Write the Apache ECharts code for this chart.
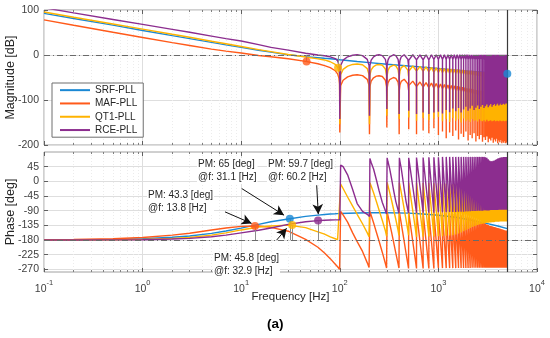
<!DOCTYPE html>
<html><head><meta charset="utf-8">
<script src="https://cdn.jsdelivr.net/npm/echarts@6/dist/echarts.min.js"></script>
<style>html,body{margin:0;padding:0;background:#fff}#c{width:550px;height:338px}</style>
</head><body><div id="c"></div>
<script>
// ---------------- data ----------------
const seriesNames = ['SRF-PLL', 'MAF-PLL', 'QT1-PLL', 'RCE-PLL'];
const xTickHz = [0.1, 1, 10, 100, 1000, 10000];
const xTickExp = ['-1', '0', '1', '2', '3', '4'];
const magTicks = [-200, -100, 0, 100];
const phaseTicks = [-270, -225, -180, -135, -90, -45, 0, 45];

const lowHz = [0.1, 0.2, 0.5, 1, 2, 3, 5, 7, 10, 15, 20, 30, 45, 60, 70, 80, 90, 95, 98, 99.5];
const srfMagLow = [92.5, 81, 66.5, 54.5, 43, 36.5, 28, 22.5, 17, 10.5, 6.5, 0.4, -3.6, -6, -7.3, -8.3, -9.4, -9.9, -10.2, -10.4];
const srfPhaseLow = [-179.6, -179.1, -177.9, -175.7, -171.5, -167.4, -159.5, -152.4, -143.3, -132, -124, -115.5, -107.5, -103.5, -101.5, -100.3, -99.5, -99, -98.8, -98.7];
const mafMagLow = [78, 66, 50.5, 39, 27.5, 21, 13, 8.5, 4.5, -1, -4, -8.3, -14.2, -19.5, -23.5, -28, -35, -42, -51, -64];
const mafPhaseLow = [-179, -178.3, -176, -172, -165, -159, -149, -143, -138, -136.8, -141, -153, -178, -202, -220, -237, -254, -262, -267, -270];
const qt1MagLow = [95.5, 84, 69, 57.5, 46, 39.5, 30.5, 25, 19, 12, 7.5, 1, -4.5, -8.5, -11, -15, -21, -27, -36, -50];
const qt1PhaseLow = [-180, -179.8, -179.3, -178, -175, -172, -165, -158, -149, -140, -137, -134.2, -142, -155, -162, -170, -176, -179, -181, -183];
const rceMagLow = [105, 93.5, 79, 68, 57, 50.5, 42, 36.5, 31, 23, 17, 10.8, 4, 0.1, -1.8, -4, -8, -13, -22, -34];
const rcePhaseLow = [-180, -179.9, -179.6, -179, -177, -175, -170, -165, -158, -150, -143, -132, -124, -120.4, -119.3, -118.6, -118.2, -118, -118, -118];

const srfHighHz = [100, 150, 200, 300, 500, 700, 1000, 1500, 2000, 3000, 4000, 5000];
const srfMagHigh = [-10.5, -14.5, -17, -20.5, -24.5, -27, -30, -33.5, -36, -39, -41, -41.5];
const srfPhaseHigh = [-98.5, -97, -96.5, -96.5, -97.5, -100, -104, -110, -117, -128, -137, -145];

const domeHz = [100, 102, 108, 120, 135, 150, 170, 190, 198,
  200, 202, 208, 220, 235, 250, 270, 290, 298,
  300, 302, 308, 320, 335, 350, 370, 390, 398,
  400, 402, 408, 420, 435, 450, 470, 490, 498];
const mafMagDome = [-172, -68, -56, -48.6, -45, -44, -45.8, -54.2, -68,
  -176, -70, -58, -50.6, -47, -46, -47.8, -56.2, -70,
  -161, -74, -62, -54.6, -51, -50, -51.8, -60.2, -74,
  -176, -78, -66, -58.6, -55, -54, -55.8, -64.2, -78];
const qt1MagDome = [-154, -44, -32, -24.6, -21, -20, -21.8, -30.2, -44,
  -154, -45, -33, -25.6, -22, -21, -22.8, -31.2, -45,
  -135, -46.5, -34.5, -27, -23.5, -22.5, -24.3, -32.7, -46.5,
  -142, -47.5, -35.5, -28, -24.5, -23.5, -25.3, -33.7, -47.5];
const rceMagDome = [-142, -23.5, -11.5, -4, -0.5, 0.5, -1.3, -9.7, -23.5,
  -135, -23.5, -11.5, -4, -0.5, 0.5, -1.3, -9.7, -23.5,
  -120, -23.5, -11.5, -4, -0.5, 0.5, -1.3, -9.7, -23.5,
  -131, -23.5, -11.5, -4, -0.5, 0.5, -1.3, -9.7, -23.5];
const mafPhaseDome = [-270, -92, -103, -125, -158, -185, -215, -250, -264,
  -270, -92, -104, -127, -156, -183, -218, -252, -266,
  -270, -93, -105, -128, -156, -184, -220, -253, -266,
  -270, -94, -106, -129, -157, -185, -221, -254, -267];
const qt1PhaseDome = [-183, -8, -22, -48, -76, -101, -130, -158, -170,
  -173, -4, -14, -35, -62, -88, -120, -152, -168,
  -172, -3, -13, -33, -58, -84, -117, -150, -166,
  -172, -4, -14, -34, -60, -85, -118, -150, -165];
const rcePhaseDome = [-118, 50, 45, 20, -25, -68, -92, -101, -106,
  -108, 70, 58, 38, 5, -28, -65, -90, -100,
  -103, 72, 60, 40, 8, -25, -62, -88, -98,
  -100, 72, 60, 40, 8, -25, -62, -88, -97];

const denseHz = [500, 600, 700, 800, 900, 1000, 1100, 1200, 1300, 1400, 1500, 1600, 1700, 1800, 1900, 2000, 2100, 2200, 2300, 2400, 2500, 2600, 2700, 2800, 2900, 3000, 3100, 3200, 3300, 3400, 3500, 3600, 3700, 3800, 3900, 4000, 4100, 4200, 4300, 4400, 4500, 4600, 4700, 4800, 4900, 5000];
const denseMidHz = [550, 650, 750, 850, 950, 1050, 1150, 1250, 1350, 1450, 1550, 1650, 1750, 1850, 1950, 2050, 2150, 2250, 2350, 2450, 2550, 2650, 2750, 2850, 2950, 3050, 3150, 3250, 3350, 3450, 3550, 3650, 3750, 3850, 3950, 4050, 4150, 4250, 4350, 4450, 4550, 4650, 4750, 4850, 4950];

const rceDepthDb = [-124, -131, -128, -131, -128, -126, -130, -122, -127, -119, -125, -118, -128, -121, -115, -124, -119, -113, -122, -117, -112, -120, -115, -111, -118, -114, -110, -116, -112, -109, -115, -111, -109, -113, -110, -108, -112, -110, -108, -111, -109, -108, -110, -108, -108, -108];
const rcePeakDb = [0.5, 0.5, 0.5, 0.5, 0.5, 0.5, 0.5, 0.5, 0.5, 0.5, 0.5, 0.5, 0.5, 0.5, 0.5, 0.5, 0.5, 0.5, 0.5, 0.5, 0.5, 0.5, 0.5, 0.5, 0.5, 0.5, 0.5, 0.5, 0.5, 0.5, 0.5, 0.5, 0.5, 0.5, 0.5, 0.5, 0.5, 0.5, 0.5, 0.5, 0.5, 0.5, 0.5, 0.5, 0.5];
const rceShoulderDb = [-12, -11, -11, -11, -10, -10, -10, -10, -10, -10, -10, -10, -10, -10, -10, -10, -10, -10, -10, -10, -10, -10, -10, -10, -10, -10, -10, -10, -10, -10, -10, -10, -10, -10, -10, -10, -10, -10, -10, -10, -10, -10, -10, -10, -10, -10];
const qt1DepthDb = [-139, -146, -140, -145, -141, -138, -147, -142, -149, -140, -146, -143, -150, -141, -147, -144, -149, -142, -146, -145, -148, -143, -146, -147, -145, -148, -144, -147, -146, -145, -147, -146, -145, -147, -146, -146, -147, -145, -146, -147, -146, -146, -147, -146, -146, -146];
const qt1PeakDb = [-24.5, -25.5, -26.5, -27.5, -28.5, -29.5, -30, -30.5, -31, -31.5, -32, -32.5, -33, -33.5, -34, -34.5, -35, -35.5, -36, -36.5, -37, -37.3, -37.6, -38, -38.3, -38.6, -39, -39.3, -39.6, -40, -40.2, -40.4, -40.6, -40.8, -41, -41.2, -41.4, -41.6, -41.8, -42, -42.2, -42.4, -42.6, -42.8, -43];
const qt1ShoulderDb = [-36, -35.5, -36.5, -37.5, -38.5, -39.5, -40, -40.5, -41, -41.5, -42, -42.5, -43, -43.5, -44, -44.5, -45, -45.5, -46, -46.5, -47, -47.3, -47.6, -48, -48.3, -48.6, -49, -49.3, -49.6, -50, -50.2, -50.4, -50.6, -50.8, -51, -51.2, -51.4, -51.6, -51.8, -52, -52.2, -52.4, -52.6, -52.8, -53, -53];
const mafDepthDb = [-165, -176, -168, -174, -163, -178, -170, -185, -172, -180, -168, -188, -175, -182, -170, -190, -178, -185, -174, -192, -180, -187, -178, -193, -183, -189, -181, -194, -186, -190, -184, -195, -188, -192, -186, -196, -190, -194, -189, -196, -192, -195, -191, -196, -194, -195];
const mafPeakDb = [-58, -60, -61.5, -62.5, -63.5, -64.5, -65.5, -66.5, -67.5, -68.5, -69.5, -70.5, -71.5, -72.5, -73.5, -74.5, -75.5, -76.5, -77.5, -78, -78.5, -79, -79.5, -80, -80.5, -81, -81.5, -82, -82.5, -83, -83.5, -84, -84.5, -85, -85.5, -86, -86.5, -87, -87.5, -88, -88.5, -89, -89.5, -90, -90.5];
const mafShoulderDb = [-68, -70, -71.5, -72.5, -73.5, -74.5, -75.5, -76.5, -77.5, -78.5, -79.5, -80.5, -81.5, -82.5, -83.5, -84.5, -85.5, -86.5, -87.5, -88, -88.5, -89, -89.5, -90, -90.5, -91, -91.5, -92, -92.5, -93, -93.5, -94, -94.5, -95, -95.5, -96, -96.5, -97, -97.5, -98, -98.5, -99, -99.5, -100, -100.5, -101];

const rceTopDeg = [72, 73, 73, 74, 74, 74, 75, 75, 75, 75, 75, 75, 75, 75, 75, 75, 75, 75, 75, 75, 75, 75, 75, 75, 75, 74, 72, 68, 64, 62, 62, 63, 64, 66, 68, 70, 71, 72, 73, 74, 74, 75, 75, 75, 75, 75];
const rceBottomDeg = [-97, -97, -96, -96, -96, -95, -95, -95, -94, -94, -94, -93, -93, -93, -92, -92, -92, -91, -91, -91, -90, -90, -90, -90, -89, -89, -89, -89, -89, -88, -88, -88, -88, -88, -88, -88, -87, -87, -87, -87, -87, -87, -87, -87, -87, -87];
const qt1TopDeg = [-4, -4, -5, -5, -6, -6, -7, -7, -8, -8, -9, -10, -11, -12, -13, -14, -15, -16, -17, -18, -19, -20, -21, -22, -23, -24, -25, -26, -27, -28, -29, -30, -31, -32, -33, -34, -35, -36, -37, -38, -39, -40, -41, -42, -43, -44];
const qt1BottomDeg = [-170, -170, -170, -169, -169, -168, -168, -167, -166, -165, -163, -160, -157, -153, -150, -146, -143, -140, -138, -136, -134, -132, -131, -130, -129, -128, -127, -127, -126, -126, -125, -125, -125, -124, -124, -124, -124, -123, -123, -123, -123, -123, -123, -123, -123, -123];
const mafTopDeg = [-95, -95, -96, -96, -96, -97, -97, -98, -99, -100, -101, -102, -104, -106, -108, -110, -112, -114, -116, -118, -120, -122, -124, -126, -128, -130, -132, -134, -136, -137, -138, -139, -140, -141, -142, -143, -144, -145, -146, -147, -148, -149, -150, -151, -151, -152];
const mafBottomDeg = [-267, -267, -267, -267, -267, -266, -266, -266, -266, -266, -266, -266, -266, -266, -266, -266, -266, -265, -265, -265, -265, -265, -265, -265, -265, -265, -265, -265, -265, -265, -265, -265, -265, -265, -265, -265, -265, -265, -265, -265, -265, -265, -265, -265, -265, -265];

const gmHz = [5000, 46, 96];
const gmDb = [-41.5, -14.7, -28.6];
const gmSeries = [0, 1, 2];
const pmHz = [13.8, 31.1, 32.9, 60.2];
const pmDeg = [-136.7, -115, -134.2, -120.3];
const pmSeries = [1, 0, 2, 3];
const pmLabels = ['PM: 43.3 [deg]\n@f: 13.8 [Hz]', 'PM: 65 [deg]\n@f: 31.1 [Hz]', 'PM: 45.8 [deg]\n@f: 32.9 [Hz]', 'PM: 59.7 [deg]\n@f: 60.2 [Hz]'];
const nyquistHz = 5000;
// arrow annotations (from -> to) in data coordinates [Hz, deg]
const arrowFrom = [[6.85, -93.6], [10.12, -22], [22.9, -180], [58.3, -12]];
const arrowTo = [[12.77, -129], [27.2, -103.7], [28.9, -144], [60.5, -100.6]];

// ---------------- styles ----------------
const colors = ['#1a88d4', '#ff5a1a', '#ffb300', '#8c2d8f'];
const FONT = 'Liberation Sans, Arial, Helvetica, sans-serif';
const labelPos = [[147, 189], [197, 158], [213, 252], [267, 158]];

// ---------------- build ----------------
function magData(low, dome, depth, peak, shoulder) {
  const d = lowHz.map((f, i) => [f, low[i]]);
  domeHz.forEach((f, i) => d.push([f, dome[i]]));
  denseHz.forEach((f, i) => {
    d.push([f, shoulder[i]], [f, depth[i]], [f, shoulder[i]]);
    if (i < denseMidHz.length) d.push([denseMidHz[i], peak[i]]);
  });
  return d;
}
function phaseData(low, dome, bottom, top) {
  const d = lowHz.map((f, i) => [f, low[i]]);
  domeHz.forEach((f, i) => d.push([f, dome[i]]));
  denseHz.forEach((f, i) => d.push([f, bottom[i]], [f, top[i]]));
  return d;
}
const srfMag = lowHz.map((f, i) => [f, srfMagLow[i]]).concat(srfHighHz.map((f, i) => [f, srfMagHigh[i]]));
const srfPhase = lowHz.map((f, i) => [f, srfPhaseLow[i]]).concat(srfHighHz.map((f, i) => [f, srfPhaseHigh[i]]));
const magSets = [srfMag,
  magData(mafMagLow, mafMagDome, mafDepthDb, mafPeakDb, mafShoulderDb),
  magData(qt1MagLow, qt1MagDome, qt1DepthDb, qt1PeakDb, qt1ShoulderDb),
  magData(rceMagLow, rceMagDome, rceDepthDb, rcePeakDb, rceShoulderDb)];
const phaseSets = [srfPhase,
  phaseData(mafPhaseLow, mafPhaseDome, mafBottomDeg, mafTopDeg),
  phaseData(qt1PhaseLow, qt1PhaseDome, qt1BottomDeg, qt1TopDeg),
  phaseData(rcePhaseLow, rcePhaseDome, rceBottomDeg, rceTopDeg)];

const gridLine = { show: true, lineStyle: { color: '#dedede', width: 1 } };
const minorGrid = { show: true, lineStyle: { color: '#ececec', width: 1, type: [1, 2] } };
const tick = { show: true, inside: true, length: 4, lineStyle: { color: '#606060' } };
const minorTick = { show: true, splitNumber: 9, length: 2, lineStyle: { color: '#808080' } };
const noLine = { show: false, onZero: false };

function logX(gi, pos, extra) {
  return Object.assign({
    gridIndex: gi, type: 'log', logBase: 10, min: xTickHz[0], max: xTickHz[xTickHz.length - 1], position: pos,
    axisLine: noLine, axisTick: tick, minorTick: minorTick,
    splitLine: { show: false }, axisLabel: { show: false }
  }, extra || {});
}
const xLabelFmt = v => {
  const i = xTickHz.findIndex(t => Math.abs(Math.log10(t) - Math.log10(v)) < 1e-6);
  return i < 0 ? '' : '{b|10}{e|' + xTickExp[i] + '}';
};

const series = [];
seriesNames.forEach((n, k) => {
  series.push({
    name: n, type: 'line', xAxisIndex: 0, yAxisIndex: 0, data: magSets[k],
    showSymbol: false, symbol: 'none', clip: true, z: 2,
    itemStyle: { color: colors[k] }, lineStyle: { color: colors[k], width: 1.4 },
    markLine: k === 0 ? { silent: true, symbol: ['none', 'none'], label: { show: false },
      lineStyle: { color: '#6a6a6a', width: 1, type: [6, 3, 1, 3] }, data: [{ yAxis: 0 }] } : undefined
  });
});
seriesNames.forEach((n, k) => {
  series.push({
    name: n, type: 'line', xAxisIndex: 1, yAxisIndex: 1, data: phaseSets[k],
    showSymbol: false, symbol: 'none', clip: true, z: 2,
    itemStyle: { color: colors[k] }, lineStyle: { color: colors[k], width: 1.4 },
    markLine: k === 0 ? { silent: true, symbol: ['none', 'none'], label: { show: false },
      lineStyle: { color: '#6a6a6a', width: 1, type: [6, 3, 1, 3] }, data: [{ yAxis: -180 }] } : undefined
  });
});
const stemStyle = { color: '#8c8c8c', width: 1, type: 'solid' };
const nyqStyle = { color: '#3a3a3a', width: 1.2, type: 'solid' };
series.push({
  name: 'GM', type: 'scatter', xAxisIndex: 0, yAxisIndex: 0, z: 5, symbolSize: 8,
  data: gmHz.map((f, i) => ({ value: [f, gmDb[i]], itemStyle: { color: colors[gmSeries[i]] } })),
  markLine: { silent: true, symbol: ['none', 'none'], label: { show: false }, lineStyle: stemStyle,
    data: gmHz.map((f, i) => [{ coord: [f, 0] }, { coord: [f, gmDb[i]] }])
      .concat([{ xAxis: nyquistHz, lineStyle: nyqStyle }]) }
});
series.push({
  name: 'PM', type: 'scatter', xAxisIndex: 1, yAxisIndex: 1, z: 5, symbolSize: 8,
  data: pmHz.map((f, i) => ({ value: [f, pmDeg[i]], itemStyle: { color: colors[pmSeries[i]] } })),
  markLine: { silent: true, symbol: ['none', 'none'], label: { show: false }, lineStyle: stemStyle,
    data: pmHz.map((f, i) => [{ coord: [f, -180] }, { coord: [f, pmDeg[i]] }])
      .concat([{ xAxis: nyquistHz, lineStyle: nyqStyle }])
      .concat(arrowFrom.map((a, i) => [
        { coord: a, symbol: 'none', lineStyle: { color: '#111', width: 1, type: 'solid' } },
        { coord: arrowTo[i], symbol: 'arrow', symbolSize: [8, 10] }])) }
});

const graphics = pmLabels.map((t, i) => ({
  type: 'text', left: labelPos[i][0], top: labelPos[i][1], z: 100,
  style: { text: t, font: '10px ' + FONT, fill: '#262626', lineHeight: 13, backgroundColor: '#ffffff', padding: [0, 1] }
}));
graphics.push({ type: 'text', left: 267, top: 317, z: 100, style: { text: '(a)', font: 'bold 13.5px ' + FONT, fill: '#000' } });

const option = {
  animation: false,
  textStyle: { fontFamily: FONT },
  grid: [
    { left: 44, right: 13, top: 10, height: 135, show: true, borderColor: '#a0a0a0', borderWidth: 1, containLabel: false, outerBoundsMode: 'none' },
    { left: 44, right: 13, top: 152, height: 120, show: true, borderColor: '#a0a0a0', borderWidth: 1, containLabel: false, outerBoundsMode: 'none' }
  ],
  legend: {
    data: seriesNames, orient: 'vertical', left: 52, top: 83, icon: 'rect', itemWidth: 30, itemHeight: 2,
    itemGap: 1, itemTextGap: 3, padding: [1, 6, 1, 8], borderColor: '#6e6e6e', borderWidth: 1, backgroundColor: '#fff',
    textStyle: { fontSize: 10, color: '#262626', lineHeight: 12.3, fontFamily: FONT }
  },
  xAxis: [
    logX(0, 'bottom', { splitLine: gridLine, minorSplitLine: minorGrid }),
    logX(1, 'bottom', {
      splitLine: gridLine, minorSplitLine: minorGrid,
      axisLabel: { show: true, margin: 7, formatter: xLabelFmt, color: '#404040',
        rich: { b: { fontSize: 10.5, lineHeight: 16, verticalAlign: 'bottom', color: '#404040', fontFamily: FONT },
                e: { fontSize: 7.5, lineHeight: 8, verticalAlign: 'top', color: '#404040', fontFamily: FONT } } },
      name: 'Frequency [Hz]', nameLocation: 'middle', nameGap: 19, nameMoveOverlap: false,
      nameTextStyle: { fontSize: 11.5, color: '#262626', fontFamily: FONT }
    }),
    logX(0, 'top'),
    logX(1, 'top')
  ],
  yAxis: [
    { gridIndex: 0, type: 'value', min: magTicks[0], max: magTicks[magTicks.length - 1], interval: 100, position: 'left',
      axisLine: noLine, axisTick: tick, splitLine: gridLine,
      axisLabel: { fontSize: 10.5, color: '#404040', margin: 5 },
      name: 'Magnitude [dB]', nameLocation: 'middle', nameGap: 27, nameMoveOverlap: false,
      nameTextStyle: { fontSize: 12.5, color: '#262626', fontFamily: FONT } },
    { gridIndex: 1, type: 'value', min: -278, max: 90, position: 'left',
      axisLine: noLine, axisTick: Object.assign({}, tick, { customValues: phaseTicks }), splitLine: gridLine,
      axisLabel: { fontSize: 10.5, color: '#404040', margin: 5, customValues: phaseTicks },
      name: 'Phase [deg]', nameLocation: 'middle', nameGap: 27, nameMoveOverlap: false,
      nameTextStyle: { fontSize: 12.5, color: '#262626', fontFamily: FONT } },
    { gridIndex: 0, type: 'value', min: magTicks[0], max: magTicks[magTicks.length - 1], interval: 100, position: 'right',
      axisLine: noLine, axisTick: tick, splitLine: { show: false }, axisLabel: { show: false } },
    { gridIndex: 1, type: 'value', min: -278, max: 90, position: 'right',
      axisLine: noLine, axisTick: Object.assign({}, tick, { customValues: phaseTicks }),
      splitLine: { show: false }, axisLabel: { show: false, customValues: phaseTicks } }
  ],
  series: series,
  graphic: graphics
};
const chart = echarts.init(document.getElementById('c'), null, { renderer: 'canvas' });
chart.setOption(option);
</script></body></html>
